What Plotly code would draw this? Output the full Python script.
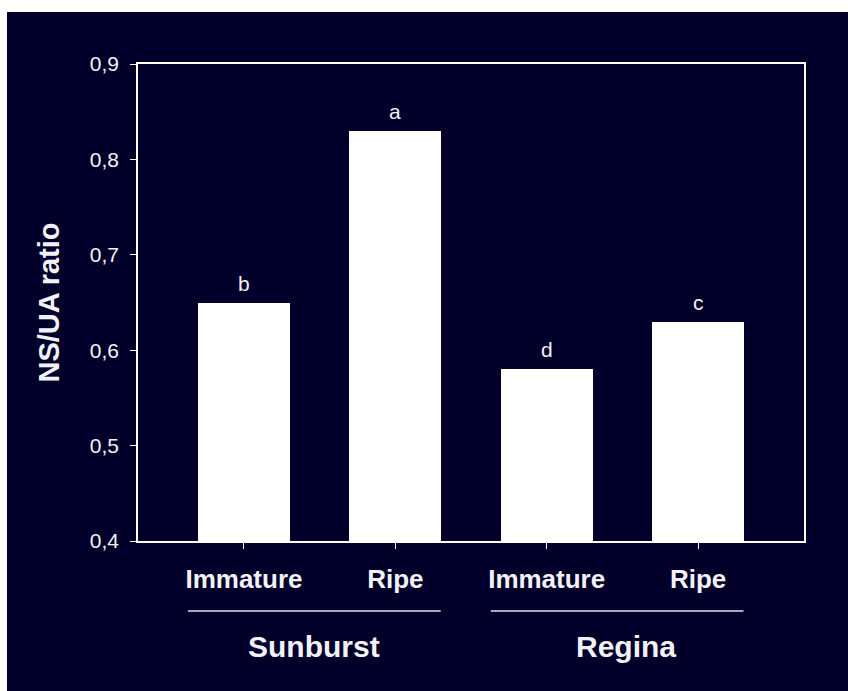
import plotly.graph_objects as go

# Data
cultivars = ["Sunburst", "Sunburst", "Regina", "Regina"]
stages = ["Immature", "Ripe", "Immature", "Ripe"]
ratio = [0.65, 0.83, 0.58, 0.63]
letters = ["b", "a", "d", "c"]
groups = ["Sunburst", "Regina"]
y_ticks = [0.4, 0.5, 0.6, 0.7, 0.8, 0.9]

# Layout geometry (pixels)
W, H = 848, 691
ML, MR, MT, MB = 138, 44, 64, 150
PW, PH = W - ML - MR, H - MT - MB
BG = "#02002a"
FONT = "Liberation Sans, Arial, sans-serif"
FG = "#f2f2f6"

x = list(range(len(ratio)))
x_range = [-0.7, 3.7]
group_label_nudge = [0.0, 0.06]


def px_to_paper_x(px):
    return (px - ML) / PW


def py_to_paper_y(py):
    return (H - MB - py) / PH


fig = go.Figure()
fig.add_trace(go.Bar(
    x=x, y=ratio, width=0.61,
    marker=dict(color="white", line=dict(width=0)),
    hoverinfo="skip",
))

annotations = []
for xi, yi, t in zip(x, ratio, letters):
    annotations.append(dict(
        x=xi, y=yi, xref="x", yref="y", text=t, showarrow=False,
        yanchor="bottom", yshift=6,
        font=dict(family=FONT, size=21, color=FG),
    ))

shapes = [
    # white strip at left and top, dark field elsewhere
    dict(type="rect", xref="paper", yref="paper", layer="below",
         x0=px_to_paper_x(-5), x1=px_to_paper_x(W + 5),
         y0=py_to_paper_y(-5), y1=py_to_paper_y(H + 5),
         fillcolor="white", line=dict(width=0)),
    dict(type="rect", xref="paper", yref="paper", layer="below",
         x0=px_to_paper_x(7), x1=px_to_paper_x(W + 5),
         y0=py_to_paper_y(12), y1=py_to_paper_y(H + 5),
         fillcolor=BG, line=dict(width=0)),
]

# cultivar brackets under the stage labels
for gi, g in enumerate(groups):
    idx = [i for i, c in enumerate(cultivars) if c == g]
    x0 = min(idx) - 0.37
    x1 = max(idx) + 0.30
    shapes.append(dict(type="line", xref="x", yref="paper",
                       x0=x0, x1=x1, y0=py_to_paper_y(611), y1=py_to_paper_y(611),
                       line=dict(color="#e0e0ea", width=1.5)))
    annotations.append(dict(
        x=(x0 + x1) / 2 + group_label_nudge[gi], y=py_to_paper_y(646),
        xref="x", yref="paper",
        text=f"<b>{g}</b>", showarrow=False, yanchor="middle",
        font=dict(family=FONT, size=30, color=FG),
    ))

fig.update_layout(
    width=W, height=H,
    margin=dict(l=ML, r=MR, t=MT, b=MB, pad=0),
    paper_bgcolor=BG, plot_bgcolor=BG,
    separators=", ",
    showlegend=False,
    bargap=0,
    shapes=shapes,
    annotations=annotations,
    xaxis=dict(
        range=x_range, tickmode="array", tickvals=x,
        ticktext=[f"<b>{s}</b>" for s in stages],
        showgrid=False, zeroline=False,
        showline=True, linecolor="white", linewidth=1.5, mirror=True,
        ticks="outside", ticklen=6, tickcolor="white", tickwidth=1,
        ticklabelstandoff=8,
        tickfont=dict(family=FONT, size=26, color=FG),
        fixedrange=True,
    ),
    yaxis=dict(
        range=[0.4, 0.9], tickmode="array", tickvals=y_ticks,
        tickformat=".1f",
        showgrid=False, zeroline=False,
        showline=True, linecolor="white", linewidth=1.5, mirror=True,
        ticks="outside", ticklen=6, tickcolor="white", tickwidth=1,
        ticklabelstandoff=7,
        tickfont=dict(family=FONT, size=21, color=FG),
        title=dict(text="<b>NS/UA ratio</b>", standoff=22,
                   font=dict(family=FONT, size=29, color=FG)),
        fixedrange=True,
    ),
)

fig.write_html("out.html")
